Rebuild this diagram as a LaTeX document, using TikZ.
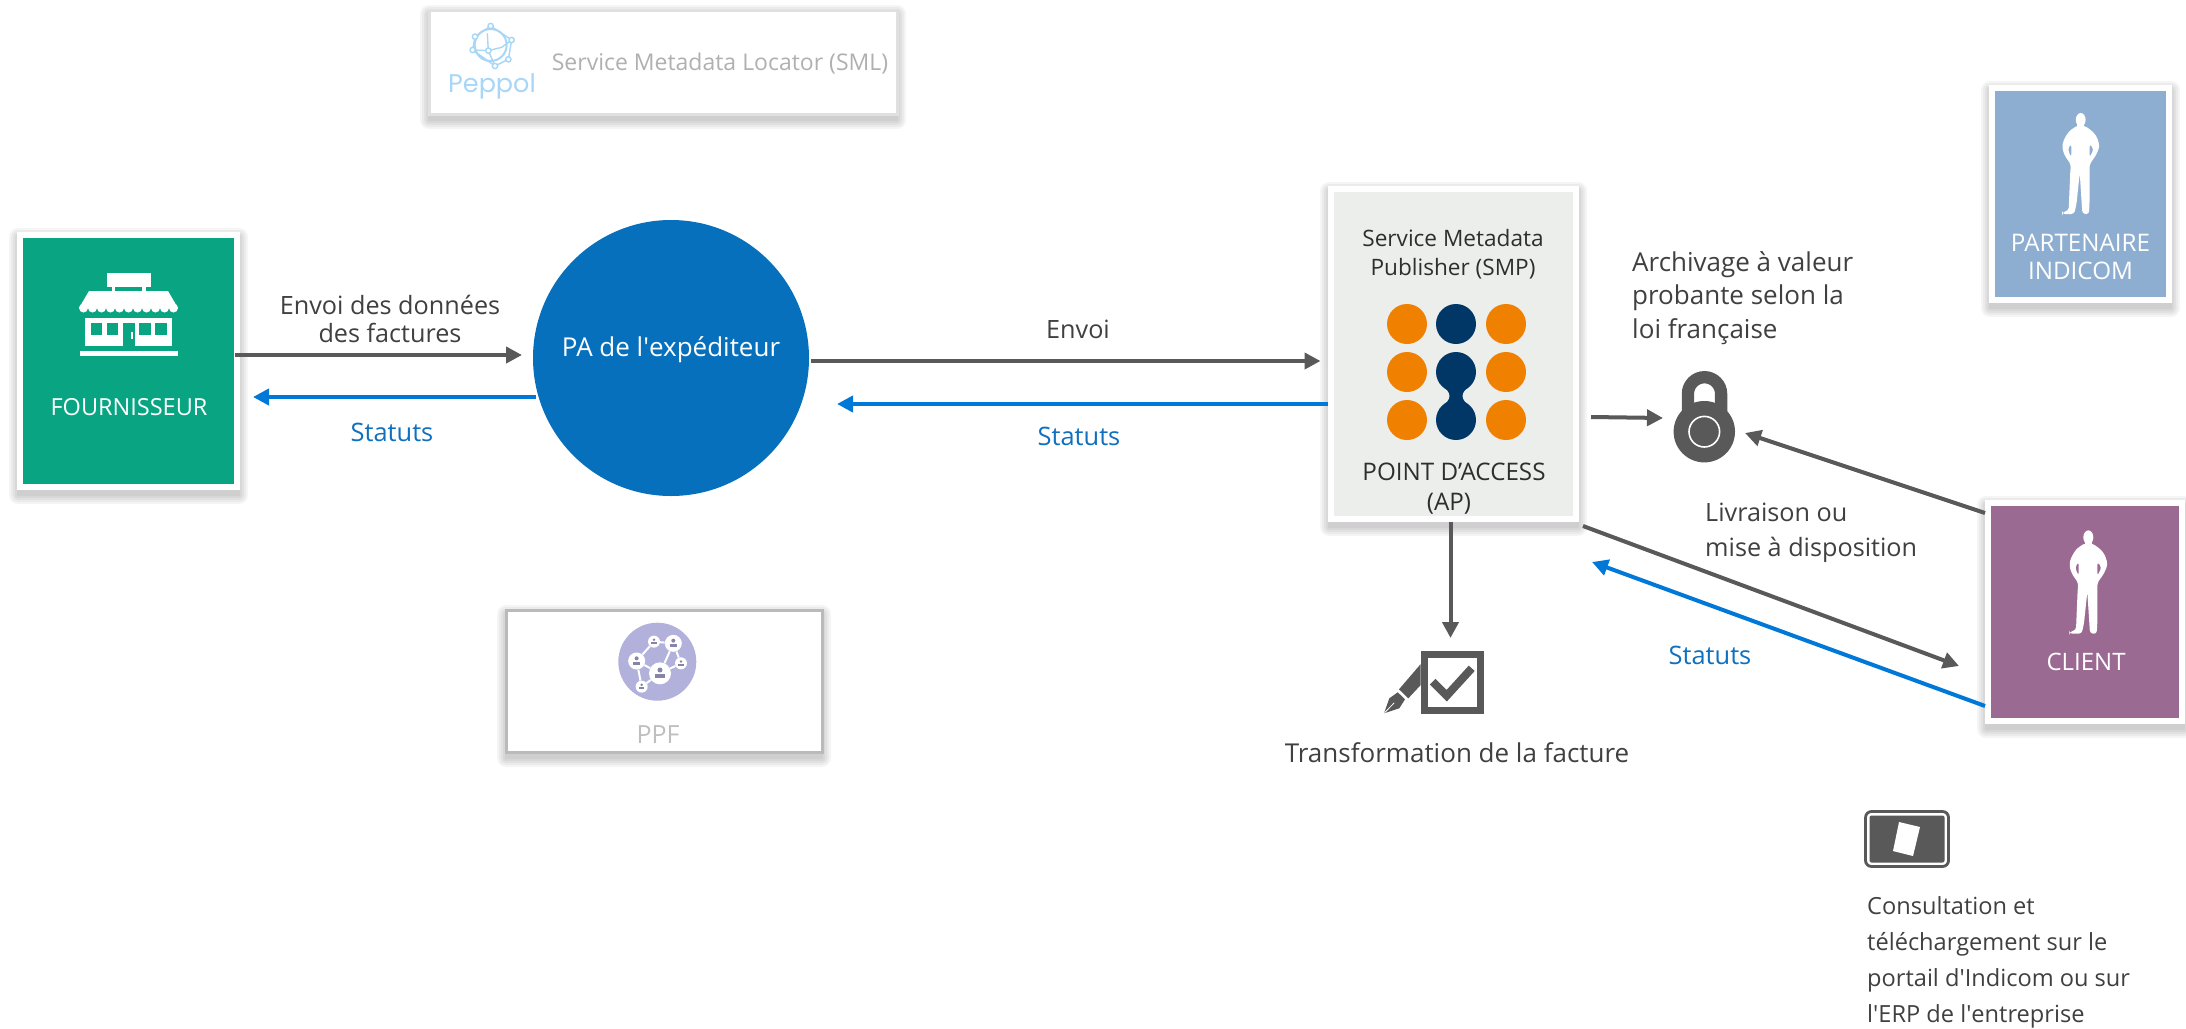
\documentclass[tikz,border=0pt]{standalone}
\usepackage{fontspec}
\setmainfont{Open Sans}
\newfontfamily\pepfont{Poppins}
\newfontfamily\aposfont{Open Sans}
\usetikzlibrary{arrows.meta,calc,shapes.geometric}
\newcommand\apos{{\aposfont\symbol{39}}}
\definecolor{shopgreen}{HTML}{09A582}
\definecolor{circblue}{HTML}{0670BC}
\definecolor{smpbg}{HTML}{ECEEEC}
\definecolor{dotorange}{HTML}{F08000}
\definecolor{dotnavy}{HTML}{003767}
\definecolor{partblue}{HTML}{8DAED0}
\definecolor{clientmauve}{HTML}{9B6A92}
\definecolor{lineg}{HTML}{595959}
\definecolor{lineb}{HTML}{0078D7}
\definecolor{txtd}{HTML}{404040}
\definecolor{txtb}{HTML}{0F70BF}
\definecolor{faint}{HTML}{B0B0B0}
\definecolor{pepblue}{HTML}{A8D6F7}
\definecolor{ppfv}{HTML}{B2B1DC}
\newcommand\softshadow[4]{%
  \foreach \r in {1,3,5,7,9}{%
    \fill[black,opacity=.04,rounded corners=\r pt] ({#1-\r+1},{#2+5-\r}) rectangle ({#3+\r-1},{#4+5+\r});
  }}
\newcommand\personshape[5]{%
  \begin{scope}[shift={(#1,#2)},x=#3pt,y=-#3pt,shift={(-415,-122)}]
    \fill[#4] (415,142) ellipse (15 and 21);
    \fill[#4,even odd rule,rounded corners=3pt]
      (403,160)--(378,178)--(362,205)--(358,228)--(366,252)--(380,272)--(385,280)--(383,300)--(378,420)--(358,426)--(358,431)--(395,431)--(402,400)--(412,305)--(420,430)--(440,432)--(442,400)--(442,278)--(450,268)--(465,245)--(473,222)--(465,195)--(452,178)--(427,160)--cycle
      (386,215)--(375,232)--(386,258)--cycle
      (442,215)--(455,232)--(442,258)--cycle;
    \fill[#4] (405,150) rectangle (425,170);
  \end{scope}}
\tikzset{
  x=1pt,y=-1pt,
  boxfr/.style={draw=white,line width=6pt,outer sep=0pt,inner sep=0pt,rectangle},
  garr/.style={draw=lineg,line width=4pt,-{Triangle[length=16pt,width=16pt]}},
  barr/.style={draw=lineb,line width=4pt,-{Triangle[length=16pt,width=16pt]}},
  lbl/.style={font=\fontsize{25.2}{28}\selectfont,text=txtd,inner sep=0pt},
  lbll/.style={lbl,align=left,anchor=west},
  lblst/.style={font=\fontsize{25.4}{28}\selectfont,text=txtb,inner sep=0pt},
  lblw/.style={font=\fontsize{23.5}{28}\selectfont,text=white,inner sep=0pt,align=center},
  lblk/.style={font=\fontsize{22.6}{29}\selectfont,text=black!82,inner sep=0pt,align=center},
  dot/.style={circle,fill=dotorange,minimum size=40pt,inner sep=0pt},
  dotb/.style={dot,fill=dotnavy},
  netn/.style={circle,fill=white,inner sep=0pt},
}
\begin{document}
\begin{tikzpicture}
\useasboundingbox (0,0) rectangle (2186,1028);
\fill[white] (0,0) rectangle (2186,1028);

% ---------- shadows
\softshadow{17}{232}{240}{490}
\softshadow{1328}{186}{1579}{522}
\softshadow{1989}{85}{2172}{303}
\softshadow{1985}{500}{2185}{724}
\softshadow{428}{9}{898}{115}
\softshadow{505}{609}{823}{753}

% ---------- boxes
\node[boxfr,fill=shopgreen,minimum width=217pt,minimum height=252pt] (four) at (128.5,361) {};
\node[boxfr,fill=smpbg,minimum width=245pt,minimum height=330pt] (smp) at (1453.5,354) {};
\node[boxfr,fill=partblue,minimum width=177pt,minimum height=212pt] (part) at (2080.5,194) {};
\node[boxfr,fill=clientmauve,minimum width=194pt,minimum height=218pt] (client) at (2085,612) {};
\node[rectangle,draw=black!12,line width=3pt,fill=white,outer sep=0pt,minimum width=468pt,minimum height=104pt] (sml) at (663,62) {};
\node[rectangle,draw=black!27,line width=3pt,fill=white,outer sep=0pt,minimum width=316pt,minimum height=142pt] (ppf) at (664,681) {};
\node[circle,fill=circblue,minimum size=276pt,inner sep=0pt,outer sep=0pt] (pa) at (671,358) {};

% ---------- shop icon
\fill[white] (107,273) rectangle (151,287);
\fill[white] (112,287) rectangle (115,292);
\fill[white] (142,287) rectangle (146,292);
\fill[white] (89,291)--(168,291)--(178,308)--(79,308)--cycle;
\foreach \i in {0,...,10}{\fill[white] ({83.5+\i*9},308) circle (4.5);}
\fill[white] (85,318) rectangle (172,346);
\fill[shopgreen] (91,323) rectangle (102,335);
\fill[shopgreen] (107,323) rectangle (118,335);
\fill[shopgreen] (123,323) rectangle (135,346);
\fill[shopgreen] (139,323) rectangle (151,335);
\fill[shopgreen] (155,323) rectangle (167,335);
\fill[white] (131,332) rectangle (133,339);
\fill[white] (80,351) rectangle (178,356);

% ---------- persons
\personshape{2080.7}{113.3}{.326}{white}{}
\personshape{2088.3}{530.7}{.3333}{white}{}

% ---------- SMP dots
\node[dot] (d1) at (1407,324) {};
\node[dotb] (d2) at (1456,324) {};
\node[dot] (d3) at (1506,324) {};
\node[dot] (d4) at (1407,372) {};
\node[dotb] (d5) at (1456,372) {};
\node[dot] (d6) at (1506,372) {};
\node[dot] (d7) at (1407,420) {};
\node[dotb] (d8) at (1456,420) {};
\node[dot] (d9) at (1506,420) {};
\fill[dotnavy] (1441,384) .. controls (1447,390) and (1449.5,392) .. (1449.5,396) .. controls (1449.5,400) and (1447,402) .. (1441,408) -- (1471,408) .. controls (1465,402) and (1462.5,400) .. (1462.5,396) .. controls (1462.5,392) and (1465,390) .. (1471,384) -- cycle;

% ---------- lock
\draw[lineg,line width=12.3pt,rounded corners=16.6pt] (1687.9,425)--(1687.9,377.2)--(1721.1,377.2)--(1721.1,425);
\node[circle,fill=lineg,minimum size=61.4pt,inner sep=0pt,outer sep=0pt] (lock) at (1704.3,431.7) {};
\draw[white,line width=1.6pt] (lock.center) circle (15.3);

% ---------- pen + check
\node[rectangle,draw=lineg,line width=7pt,outer sep=0pt,inner sep=0pt,minimum size=56.6pt] (check) at (1452.5,682.3) {};
\draw[lineg,line width=8pt,miter limit=10] (1432.7,681.7)--(1446.7,695.7)--(1471.7,668.3);
\fill[lineg] (1420.7,664)--(1420.7,685)--(1408.3,698.3)--(1399,689.3)--cycle;
\fill[lineg] (1397.7,692.3)--(1405,699.3)--(1399.3,708.3)--(1384,713.3)--(1389.3,698.3)--cycle;
\draw[white,line width=.8pt] (1384.5,712.8)--(1394,703);

% ---------- tablet
\node[rectangle,draw=lineg,line width=2.8pt,fill=white,rounded corners=6pt,outer sep=0pt,minimum width=83pt,minimum height=55pt] (tabl) at (1907,839) {};
\fill[lineg,rounded corners=2pt] (1869.5,815.5) rectangle (1944.5,862.5);
\fill[white] (1899,822)--(1920,827)--(1913,856)--(1893,851)--cycle;

% ---------- Peppol logo
\begin{scope}[shift={(400,0)},x=.3333pt,y=-.3333pt]
  \draw[pepblue,line width=2pt] (272,135) circle (48);
  \draw[pepblue,line width=1.4pt] (272,78)--(225,110)--(218,150)--(285,198)--(325,178)--(335,120)--cycle;
  \draw[pepblue,line width=1.4pt] (265,152)--(262,100) (265,152)--(305,142)--(335,120) (265,152)--(218,150) (265,152)--(285,198);
  \foreach \p in {(272,78),(225,110),(335,120),(218,150),(325,178),(285,198),(265,152)}{
    \filldraw[fill=white,draw=pepblue,line width=1.4pt] \p circle (8);
  }
\end{scope}
\node[font=\pepfont\fontsize{25.5}{30}\selectfont,text=pepblue,inner sep=0pt] (peplab) at (492,86) {Peppol};
\node[font=\fontsize{23}{26}\selectfont,text=faint,inner sep=0pt] (smlt) at (720,64) {Service Metadata Locator (SML)};

% ---------- PPF logo
\node[circle,fill=ppfv,minimum size=78pt,inner sep=0pt] (ppfc) at (657.3,661.7) {};
\begin{scope}[shift={(480,590)},x=.3333pt,y=-.3333pt]
  \node[netn,minimum size=17pt] (n1) at (470,213) {};
  \node[netn,minimum size=22pt] (n2) at (540,250) {};
  \node[netn,minimum size=17pt] (n3) at (580,160) {};
  \node[netn,minimum size=12pt] (n4) at (522,155) {};
  \node[netn,minimum size=12pt] (n5) at (603,220) {};
  \node[netn,minimum size=12pt] (n6) at (485,290) {};
  \draw[white,line width=2pt] (n1)--(n4)--(n3)--(n2)--(n1)--(n6)--(n2)--(n5)--(n3);
  \foreach \q/\s in {n1/1,n2/1.25,n3/1,n4/.7,n5/.7,n6/.7}{
    \fill[ppfv!75!black] ($(\q)+(0,{-8*\s})$) circle ({6*\s});
    \fill[ppfv!75!black] ($(\q)+({-11*\s},{12*\s})$) rectangle ($(\q)+({11*\s},{2*\s})$);
  }
\end{scope}
\node[font=\fontsize{25}{26}\selectfont,text=black!25,inner sep=0pt] (ppft) at (658,735) {PPF};

% ---------- box texts
\node[lblw] (fourt) at (129,407) {FOURNISSEUR};
\node[lblw,font=\fontsize{24.2}{28}\selectfont] (partt) at (2080.5,257) {PARTENAIRE\\INDICOM};
\node[lblw,font=\fontsize{24}{28}\selectfont] (clientt) at (2086,662) {CLIENT};
\node[lblw,font=\fontsize{26}{28}\selectfont] (pat) at (671,350) {PA de l\apos expéditeur};
\node[lblk] (smpt) at (1453,254.5) {Service Metadata\\Publisher (SMP)};
\node[lblk,font=\fontsize{24.2}{29}\selectfont] (apt) at (1454,472) {POINT D’ACCESS};
\node[lblk,font=\fontsize{24.2}{29}\selectfont] (apt2) at (1449,504) {(AP)};

% ---------- connector labels
\node[lbl,align=center] (l1) at (390,319) {Envoi des données\\des factures};
\node[lblst] (s1) at (392,432) {Statuts};
\node[lbl] (l2) at (1078,329) {Envoi};
\node[lblst] (s2) at (1079,436) {Statuts};
\node[lblst] (s3) at (1710,655) {Statuts};
\node[lbll,font=\fontsize{26}{33.5}\selectfont] (l3) at (1632,298) {Archivage à valeur\\probante selon la\\loi française};
\node[lbll,font=\fontsize{25.2}{35}\selectfont] (l4) at (1705,532.5) {Livraison ou\\mise à disposition};
\node[lbl,font=\fontsize{26}{28}\selectfont] (l5) at (1457,753) {Transformation de la facture};
\node[lbll,font=\fontsize{23.6}{36}\selectfont] (l6) at (1867,962) {Consultation et\\téléchargement sur le\\portail d\apos Indicom ou sur\\l\apos ERP de l\apos entreprise};

% ---------- connectors
\draw[garr] ([shift={(-2,-6)}]four.east) -- ([shift={(-11,-3)}]pa.west);
\draw[barr] ([shift={(3,39)}]pa.west) -- ([shift={(16,36)}]four.east);
\draw[garr] ([shift={(2,3)}]pa.east) -- ([shift={(-10.5,7)}]smp.west);
\draw[barr] ([shift={(-3,50)}]smp.west) -- ([shift={(28,46)}]pa.east);
\draw[garr] ([shift={(15,63)}]smp.east) -- ([shift={(-41.3,-13.7)}]lock.center);
\draw[garr] ([shift={(-3,-99)}]client.west) -- ([shift={(40.7,1.3)}]lock.center);
\draw[garr] ([shift={(7,7)}]smp.south east) -- ([shift={(-29,54)}]client.west);
\draw[barr] ([shift={(-3,94)}]client.west) -- ([shift={(16,43)}]smp.south east);
\draw[garr] ([shift={(-3,3)}]smp.south) -- ([shift={(-2,-16)}]check.north);
\end{tikzpicture}
\end{document}
